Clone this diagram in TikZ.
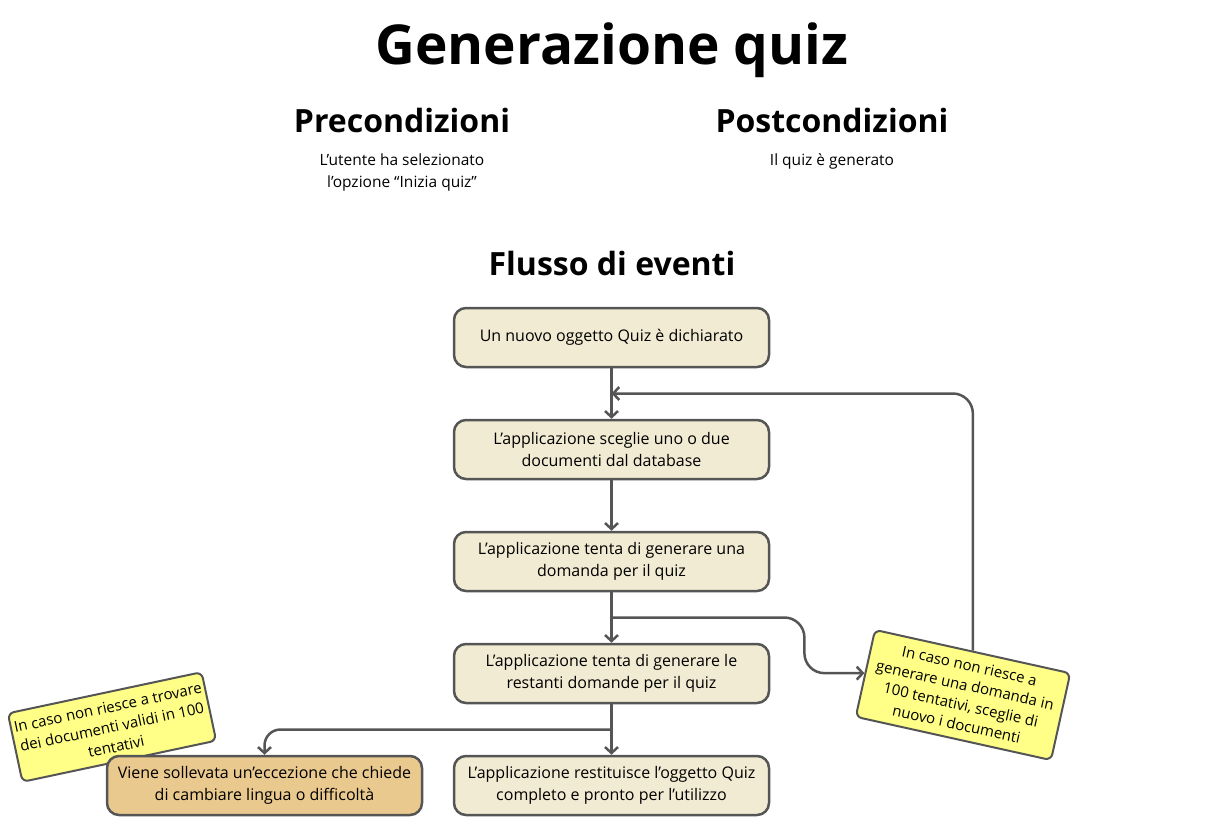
\documentclass[tikz,border=0pt]{standalone}
\usepackage{fontspec}
\setmainfont{Open Sans}
\usetikzlibrary{arrows.meta,calc}

\definecolor{linegray}{HTML}{555555}
\definecolor{stepfill}{HTML}{F2EBD3}
\definecolor{errfill}{HTML}{EAC98F}
\definecolor{notefill}{HTML}{FFFF88}

\tikzstyle{process} = [rectangle, rounded corners=12pt, minimum width=315pt, minimum height=59pt, text centered, align=center, draw=linegray, line width=2.5pt, fill=stepfill, font=\fontsize{16}{22}\selectfont]
\tikzstyle{error} = [process, fill=errfill]
\tikzstyle{note} = [rectangle, rounded corners=6pt, align=center, draw=linegray, line width=2pt, fill=notefill, font=\fontsize{15}{20}\selectfont]
\tikzstyle{arrow} = [draw=linegray, line width=2.5pt, -{Straight Barb[length=6pt,width=13pt]}]
\tikzstyle{heading} = [font=\bfseries\fontsize{32}{36}\selectfont]
\tikzstyle{plain} = [align=center, font=\fontsize{15.5}{22}\selectfont]

\begin{document}
\begin{tikzpicture}[x=1pt, y=-1pt, node distance=112pt]
\useasboundingbox (0,0) rectangle (1216,837);
 %titoli
\node (title) [font=\bfseries\fontsize{55}{60}\selectfont] at (612,50) {Generazione quiz};
\node (pre) [heading] at (402,121) {Precondizioni};
\node (pretxt) [plain] at (402,172) {L’utente ha selezionato\\l’opzione “Inizia quiz”};
\node (post) [heading] at (832,121) {Postcondizioni};
\node (posttxt) [plain] at (832,161) {Il quiz è generato};
\node (flow) [heading] at (612,264) {Flusso di eventi};

%note
\node (noteL) [note, minimum width=198pt, minimum height=70pt, rotate=12] at (112,727) {In caso non riesce a trovare\\dei documenti validi in 100\\tentativi};
\node (noteR) [note, minimum width=200pt, minimum height=89pt, rotate=-12.5] at (963,695) {In caso non riesce a\\generare una domanda in\\100 tentativi, sceglie di\\nuovo i documenti};

%passi
\node (new) [process] at (611.5,337.5) {Un nuovo oggetto Quiz è dichiarato};
\node (pick) [process, below of=new] {L’applicazione sceglie uno o due\\documenti dal database};
\node (ask) [process, below of=pick] {L’applicazione tenta di generare una\\domanda per il quiz};
\node (rest) [process, below of=ask] {L’applicazione tenta di generare le\\restanti domande per il quiz};
\node (done) [process, below of=rest] {L’applicazione restituisce l’oggetto Quiz\\completo e pronto per l’utilizzo};
\node (exc) [error, left of=done, xshift=-235pt] {Viene sollevata un’eccezione che chiede\\di cambiare lingua o difficoltà};

\coordinate (loop) at ($(new.south)!0.5!(pick.north)$);
\coordinate (fork) at ($(ask.south)!0.5!(rest.north)$);
\coordinate (fail) at ($(rest.south)!0.5!(done.north)$);

%frecce
\draw [arrow](new) -- (pick);
\draw [arrow](pick) -- (ask);
\draw [arrow](ask) -- (rest);
\draw [arrow](rest) -- (done);
\draw [arrow, rounded corners=20pt](fork) -| ([xshift=-60pt]noteR.west) -- (noteR.west);
\draw [arrow, rounded corners=20pt](noteR.north) |- (loop);
\draw [arrow, rounded corners=16pt](fail) -| (exc.north);

\end{tikzpicture}
\end{document}
